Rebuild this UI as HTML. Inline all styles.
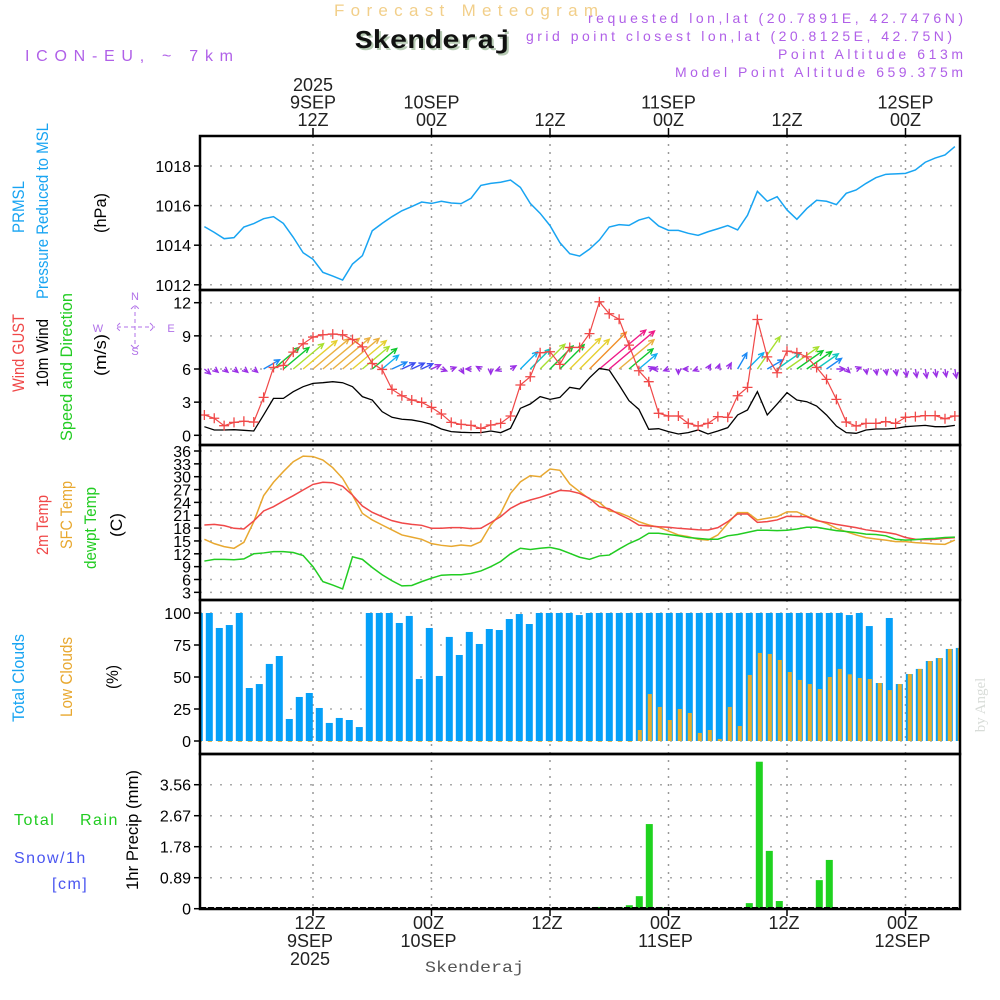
<!DOCTYPE html>
<html><head><meta charset="utf-8"><style>
html,body{margin:0;padding:0;background:#fff;}
svg{display:block;font-family:"Liberation Sans",sans-serif;}
</style></head><body>
<svg id="chart" width="1000" height="1000" viewBox="0 0 1000 1000" xmlns="http://www.w3.org/2000/svg">
<text x="334" y="16" font-size="17" fill="#f2cf8a" textLength="264" lengthAdjust="spacing">Forecast Meteogram</text>
<text x="357" y="50" font-size="26" font-weight="bold" font-family="Liberation Mono, monospace" fill="#b7cbb4" textLength="157" lengthAdjust="spacingAndGlyphs">Skenderaj</text>
<text x="355" y="48" font-size="26" font-weight="bold" font-family="Liberation Mono, monospace" fill="#111" textLength="157" lengthAdjust="spacingAndGlyphs">Skenderaj</text>
<text x="25" y="61" font-size="16" fill="#b060e8" textLength="208" lengthAdjust="spacing">ICON-EU, ~ 7km</text>
<text x="588" y="23" font-size="14" fill="#b060e8" textLength="375" lengthAdjust="spacing">requested lon,lat (20.7891E, 42.7476N)</text>
<text x="526" y="41" font-size="14" fill="#b060e8" textLength="426" lengthAdjust="spacing">grid point closest lon,lat (20.8125E, 42.75N)</text>
<text x="778" y="59" font-size="14" fill="#b060e8" textLength="185" lengthAdjust="spacing">Point Altitude 613m</text>
<text x="675" y="77" font-size="14" fill="#b060e8" textLength="288" lengthAdjust="spacing">Model Point Altitude 659.375m</text>
<text transform="translate(985,705) rotate(-90)" text-anchor="middle" font-size="15" font-family="Liberation Serif, serif" fill="#d8dcd8">by Angel</text>
<text x="425" y="972" font-size="16" font-family="Liberation Mono, monospace" fill="#555" textLength="99" lengthAdjust="spacingAndGlyphs">Skenderaj</text>
<g id="g"></g>
</svg>
<script>
// ---- data (hourly, h = 1..77) ----
const hours = [];
for (let h = 1; h <= 77; h++) hours.push(h);
const pressure = [1014.94,1014.65,1014.33,1014.38,1014.92,1015.09,1015.34,1015.44,1015.10,1014.40,1013.62,1013.29,1012.63,1012.44,1012.24,1013.05,1013.47,1014.73,1015.10,1015.44,1015.74,1015.95,1016.18,1016.11,1016.22,1016.13,1016.10,1016.37,1017.02,1017.12,1017.18,1017.29,1016.92,1016.11,1015.61,1014.99,1014.13,1013.57,1013.45,1013.80,1014.26,1014.92,1015.04,1015.0,1015.27,1015.41,1014.97,1014.75,1014.75,1014.6,1014.5,1014.68,1014.83,1014.99,1014.77,1015.51,1016.72,1016.22,1016.45,1015.78,1015.31,1015.85,1016.27,1016.22,1016.05,1016.62,1016.79,1017.12,1017.41,1017.58,1017.6,1017.63,1017.8,1018.19,1018.4,1018.56,1018.98];
const gust = [1.84,1.54,0.87,1.17,1.27,1.2,3.43,6.14,6.33,7.53,8.28,8.89,9.1,9.16,9.1,8.67,8.0,6.5,5.96,4.16,3.58,3.19,2.98,2.53,1.93,1.17,0.99,0.9,0.63,0.93,1.08,1.75,4.55,5.3,7.47,7.56,6.42,7.95,7.95,9.2,12.08,11.0,10.5,8.16,5.84,4.85,1.99,1.75,1.75,1.08,0.84,1.08,1.69,1.63,3.58,4.34,10.48,7.1,5.66,7.62,7.47,7.1,6.14,5.06,3.25,1.2,0.84,1.08,1.08,1.23,1.08,1.63,1.69,1.78,1.78,1.5,1.75];
const windSpeed = [0.78,0.48,0.48,0.51,0.45,0.39,1.84,3.34,3.34,3.95,4.4,4.7,4.76,4.85,4.76,4.4,3.5,3.19,2.14,1.63,1.45,1.39,1.23,0.99,0.57,0.33,0.27,0.24,0.24,0.39,0.24,0.63,2.44,2.83,3.5,3.25,3.43,4.34,4.19,5.2,6.05,5.9,4.55,3.13,2.35,0.54,0.6,0.33,0.12,0.24,0.48,0.12,0.39,0.69,1.84,2.29,3.95,1.84,2.83,3.86,3.19,3.04,2.65,1.84,0.84,0.24,0.18,0.48,0.57,0.57,0.63,0.78,0.84,0.9,0.78,0.78,0.9];
const windDir = [-40,-40,-40,-40,-40,-40,30,40,40,40,40,40,40,40,40,40,40,40,40,25,25,25,25,25,-20,20,-60,180,150,-90,200,30,45,45,45,45,45,45,45,45,40,40,40,40,40,20,180,200,-90,180,200,60,70,60,60,45,55,30,35,35,35,35,35,35,0,-45,20,-80,-80,-80,-80,-80,-80,-80,-80,-80,-80];
const temp2m = [18.72,18.88,18.57,17.95,17.79,19.66,22.0,23.0,24.33,25.57,26.9,28.2,28.7,28.6,27.75,25.7,23.16,21.68,20.67,19.74,19.19,18.88,18.65,17.95,17.95,18.1,18.1,17.87,17.95,19.27,20.67,22.6,23.8,24.56,25.18,25.96,26.8,26.66,26.1,24.95,23.0,22.5,21.2,20.1,18.7,18.5,18.3,18.2,17.95,17.8,17.6,17.55,18.1,19.5,21.3,21.3,19.35,19.5,19.9,20.75,20.67,20.67,19.74,19.35,18.88,18.5,18.1,17.6,17.3,17.0,16.6,15.8,15.4,15.3,15.38,15.6,15.77];
const tempSfc = [15.38,14.37,13.67,13.28,14.68,19.5,25.57,28.7,31.2,33.5,34.8,34.7,33.9,32.1,29.6,25.7,21.45,19.9,18.72,17.56,16.4,15.9,15.38,14.37,13.98,13.74,14.05,13.82,14.83,18.72,21.45,26.1,28.8,30.24,30.0,31.8,31.5,28.3,26.5,24.8,24.0,22.0,21.6,20.67,19.5,18.72,18.2,17.3,16.4,16.0,15.38,15.2,16.4,19.1,21.6,21.6,19.9,20.3,20.67,21.8,21.8,20.8,19.9,19.1,17.95,17.17,16.4,15.77,15.46,15.2,14.83,14.83,14.6,14.45,14.3,14.2,15.2];
const dewpoint = [10.3,10.7,10.7,10.6,10.8,12.0,12.2,12.5,12.5,12.3,11.6,9.0,5.5,4.7,3.8,11.3,10.7,8.8,7.1,5.7,4.5,4.6,5.5,6.3,7.0,7.1,7.1,7.4,8.0,9.0,10.2,12.0,13.3,13.0,13.3,13.5,13.0,12.1,11.2,10.7,11.5,11.7,13.1,14.4,15.4,16.8,16.8,16.5,16.2,15.8,15.6,15.4,15.4,16.2,16.5,17.0,17.5,17.5,17.4,17.5,17.8,18.2,18.2,17.8,17.4,17.2,16.95,16.6,16.5,16.2,15.4,15.2,15.3,15.5,15.6,15.8,15.9];
// ---- bar data (77 bars) ----
const totalClouds = [100,100,88.3,90.6,100,41.4,44.5,60.2,66.4,17.2,34.4,37.5,25.8,14.1,18.0,16.4,10.9,100,100,100,92.2,97.7,48.4,88.3,50.8,81.3,67.2,85.2,75.8,87.5,86.7,95.3,99.2,91.4,100,100,100,100,98.4,100,100,100,100,100,100,100,100,100,100,100,100,100,100,100,100,100,100,100,100,100,100,100,100,100,100,98.4,100,89.8,45.3,96.1,44.5,52.3,56.3,62.5,64.8,71.9,72.7];
const lowClouds = [0,0,0,0,0,0,0,0,0,0,0,0,0,0,0,0,0,0,0,0,0,0,0,0,0,0,0,0,0,0,0,0,0,0,0,0,0,0,0,0,0,0,0,0,8.6,36.7,26.6,16.4,25.0,21.9,6.3,8.6,1.6,26.6,11.7,51.6,68.8,68.0,63.3,53.9,47.7,44.5,40.6,50.0,56.3,52.1,49.2,48.4,45.3,39.8,44.5,52.3,56.3,62.5,64.8,71.9,72.7];
const precip = [0,0,0,0,0,0,0,0,0,0,0,0,0,0,0,0,0,0,0,0,0,0,0,0,0,0,0,0,0,0,0,0,0,0,0,0,0,0,0,0,0.05,0,0.05,0.1,0.36,2.43,0.05,0,0,0,0,0,0,0,0,0.16,4.22,1.66,0.22,0,0,0,0.82,1.40,0,0,0,0,0,0,0,0,0,0,0,0,0];
// ---- tick labels ----
const pressTicks = [1012,1014,1016,1018];
const windTicks = [0,3,6,9,12];
const tempTicks = [3,6,9,12,15,18,21,24,27,30,33,36];
const cloudTicks = [0,25,50,75,100];
const precipTicks = [0,0.89,1.78,2.67,3.56];
const timeTickHours = [12,24,36,48,60,72];
const topTimeLabels = [["2025","9SEP","12Z"],["10SEP","00Z"],["12Z"],["11SEP","00Z"],["12Z"],["12SEP","00Z"]];
const bottomTimeLabels = [["12Z","9SEP","2025"],["00Z","10SEP"],["12Z"],["00Z","11SEP"],["12Z"],["00Z","12SEP"]];

// ---- scales ----
const X0 = 200, X1 = 960;
const xh = h => 313 + (h - 12) * 9.875;
const xb = i => 199.3 + 10 * i;
const yP = p => 166 + (1018 - p) * 19.8;
const yW = v => 435.3 - v * 11.05;
const yT = t => 451 + (36 - t) * 4.283;
const yC = c => 741 - c * 1.28;
const yR = r => 908.7 - r * 34.83;
const panels = [[136,290],[290,445],[445,600],[600,754],[754,909]];

const NS = "http://www.w3.org/2000/svg";
const G = document.getElementById('g');
function mk(tag, attrs, parent) {
  const e = document.createElementNS(NS, tag);
  for (const k in attrs) e.setAttribute(k, attrs[k]);
  (parent || G).appendChild(e);
  return e;
}
function txt(s, attrs, parent) { const e = mk('text', attrs, parent); e.textContent = s; return e; }

// grids
const gridG = mk('g', {});


function hgrid(vals, yf) {
  vals.forEach(v => {
    const l = mk('line', {x1: X0, x2: X1, y1: yf(v), y2: yf(v), stroke: '#aaa', 'stroke-width': 1.5, 'stroke-dasharray': '2,8'}, gridG);
    
    
  });
}
hgrid(pressTicks, yP); hgrid(windTicks, yW); hgrid(tempTicks, yT); hgrid(cloudTicks, yC); hgrid(precipTicks, yR);
timeTickHours.forEach(h => {
  const l = mk('line', {x1: xh(h), x2: xh(h), y1: 136, y2: 909, stroke: '#999', 'stroke-width': 1.5, 'stroke-dasharray': '2,6'}, gridG);
  
  
});

// y tick labels
function yticks(vals, yf, name, fmt) {
  vals.forEach(v => {
    const t = txt(fmt ? fmt(v) : String(v), {x: 191, y: yf(v) + 6, 'text-anchor': 'end', 'font-size': 16, fill: '#000'});
    
    
    mk('line', {x1: 194, x2: 200, y1: yf(v), y2: yf(v), stroke: '#000', 'stroke-width': 1.5});
  });
}
yticks(pressTicks, yP, 'pressure-tick-label');
yticks(windTicks, yW, 'wind-tick-label');
yticks(tempTicks, yT, 'temp-tick-label');
yticks(cloudTicks, yC, 'cloud-tick-label');
yticks(precipTicks, yR, 'precip-tick-label', v => v === 0 ? '0' : v.toFixed(2));

// time labels
timeTickHours.forEach((h, k) => {
  const x = xh(h);
  mk('line', {x1: x, x2: x, y1: 128, y2: 136, stroke: '#000', 'stroke-width': 1.5});
  mk('line', {x1: x, x2: x, y1: 909, y2: 916, stroke: '#000', 'stroke-width': 1.5});
  const top = topTimeLabels[k];
  top.forEach((s, j) => {
    const t = txt(s, {x: x, y: 126 - (top.length - 1 - j) * 17.5, 'text-anchor': 'middle', 'font-size': 18, fill: '#222'});
    
    
  });
  bottomTimeLabels[k].forEach((s, j) => {
    const t = txt(s, {x: x - 3, y: 929 + j * 18, 'text-anchor': 'middle', 'font-size': 18, fill: '#222'});
    
    
  });
});

// pressure line
const pl = mk('polyline', {points: hours.map((h, i) => xh(h) + ',' + yP(pressure[i])).join(' '), fill: 'none', stroke: '#18a4f2', 'stroke-width': 1.5});



// wind arrows
function spdColor(s) {
  if (s < 1) return '#9b30e6';
  if (s < 1.5) return '#3a4cf0';
  if (s < 2) return '#1a88f5';
  if (s < 2.5) return '#10b0f0';
  if (s < 3) return '#10c8c0';
  if (s < 3.5) return '#10c830';
  if (s < 4) return '#a8e030';
  if (s < 4.5) return '#e6d030';
  if (s < 5) return '#eab040';
  if (s < 5.6) return '#f09028';
  return '#ee1a88';
}
const arrowG = mk('g', {});


hours.forEach((h, i) => {
  const s = windSpeed[i], a = windDir[i] * Math.PI / 180;
  const L = Math.max(5, s * 10);
  const x1 = xh(h), y1 = yW(6);
  const x2 = x1 + L * Math.cos(a), y2 = y1 - L * Math.sin(a);
  const c = spdColor(s);
  const hl = 6, ha = 0.45;
  const b1x = x2 - hl * Math.cos(a - ha), b1y = y2 + hl * Math.sin(a - ha);
  const b2x = x2 - hl * Math.cos(a + ha), b2y = y2 + hl * Math.sin(a + ha);
  const p = mk('path', {d: `M${x1},${y1}L${x2},${y2}M${b1x},${b1y}L${x2},${y2}L${b2x},${b2y}`, stroke: c, 'stroke-width': 1.4, fill: 'none'}, arrowG);
  
  
});

// wind speed line
const wl = mk('polyline', {points: hours.map((h, i) => xh(h) + ',' + yW(windSpeed[i])).join(' '), fill: 'none', stroke: '#000', 'stroke-width': 1.3});


// gust line with + markers
const gl = mk('polyline', {points: hours.map((h, i) => xh(h) + ',' + yW(gust[i])).join(' '), fill: 'none', stroke: '#f04848', 'stroke-width': 1.2});


hours.forEach((h, i) => {
  const x = xh(h), y = yW(gust[i]);
  const m = mk('path', {d: `M${x-5},${y}H${x+5}M${x},${y-5}V${y+5}`, stroke: '#f04848', 'stroke-width': 1.3});
  
  
});

// temperature lines
[[tempSfc, '#e8a830', 'sfc-temp-line'], [temp2m, '#f04848', 'temp-2m-line'], [dewpoint, '#22cc22', 'dewpoint-line']].forEach(([arr, c, n]) => {
  const l = mk('polyline', {points: hours.map((h, i) => xh(h) + ',' + yT(arr[i])).join(' '), fill: 'none', stroke: c, 'stroke-width': 1.5});
  
  
});

// cloud bars
const clipC = mk('clipPath', {id: 'clipPlot'});
mk('rect', {x: X0, y: 0, width: X1 - X0, height: 1000}, clipC);
const cloudG = mk('g', {'clip-path': 'url(#clipPlot)'});


totalClouds.forEach((v, i) => {
  const r = mk('rect', {x: xb(i) - 3.5, y: yC(v), width: 7, height: yC(0) - yC(v), fill: '#05a0f8'}, cloudG);
  
  
});
lowClouds.forEach((v, i) => {
  const r = mk('rect', {x: xb(i) - 1.5, y: yC(v), width: 4, height: Math.max(0.8, yC(0) - yC(v)), fill: '#e8ad2a'}, cloudG);
  
  
});
// precip bars
precip.forEach((v, i) => {
  if (v <= 0) return;
  const r = mk('rect', {x: xb(i) - 3.5, y: yR(v), width: 7, height: yR(0) - yR(v), fill: '#1fd21f'});
  
  
});
mk('line', {x1: X0, x2: X1, y1: 908, y2: 908, stroke: '#000', 'stroke-width': 2, 'stroke-dasharray': '6,2'});

// panel frames
panels.forEach(([a, b]) => {
  const r = mk('rect', {x: X0, y: a, width: X1 - X0, height: b - a, fill: 'none', stroke: '#000', 'stroke-width': 2.5});
  
  
});

// axis titles (rotated)
function vlab(s, x, cy, c, name, len) {
  const t = txt(s, {transform: `translate(${x},${cy}) rotate(-90)`, 'text-anchor': 'middle', 'font-size': 17, fill: c});
  if (len) { t.setAttribute('textLength', len); t.setAttribute('lengthAdjust', 'spacingAndGlyphs'); }
  
  
}
vlab('PRMSL', 24, 207, '#18a4f2', 'prmsl-label', 52);
vlab('Pressure Reduced to MSL', 48, 211, '#18a4f2', 'pressure-label', 176);
vlab('(hPa)', 106, 213, '#000', 'hpa-unit-label', 40);
vlab('Wind GUST', 24, 353, '#f04848', 'wind-gust-label', 78);
vlab('10m Wind', 48, 353, '#000', 'wind-10m-label', 68);
vlab('Speed and Direction', 72, 367, '#22cc22', 'speed-direction-label', 148);
vlab('(m/s)', 106, 355, '#000', 'ms-unit-label', 42);
vlab('2m Temp', 48, 525, '#f04848', 'temp-2m-label', 60);
vlab('SFC Temp', 72, 515, '#e8a830', 'sfc-temp-label', 68);
vlab('dewpt Temp', 96, 528, '#22cc22', 'dewpt-label', 82);
vlab('(C)', 122, 525, '#000', 'c-unit-label', 24);
vlab('Total Clouds', 24, 678, '#18a4f2', 'total-clouds-label', 88);
vlab('Low Clouds', 72, 677, '#e8a830', 'low-clouds-label', 80);
vlab('(%)', 118, 677, '#000', 'pct-unit-label', 24);
vlab('1hr Precip (mm)', 138, 830, '#000', 'precip-axis-label', 120);
// compass
[['N', 135, 300], ['W', 98, 332], ['E', 171, 332], ['S', 135, 355]].forEach(([s, x, y]) => {
  const t = txt(s, {x: x, y: y, 'text-anchor': 'middle', 'font-size': 11, fill: '#b070e8'});
  
  
});
const cp = mk('path', {d: 'M117,327H155M135,305V349M120,323L116,327L120,331M150,323L154,327L150,331M131,309L135,305L139,309M131,345L135,349L139,345', stroke: '#b070e8', 'stroke-width': 1, fill: 'none', 'stroke-dasharray': '4,3'});


// precip legend
[['Total', 14, 825, '#22cc22'], ['Rain', 80, 825, '#22cc22'], ['Snow/1h', 14, 863, '#4a55f0'], ['[cm]', 52, 889, '#4a55f0']].forEach(([s, x, y, c]) => {
  const t = txt(s, {x: x, y: y, 'font-size': 16, fill: c, 'letter-spacing': 1.5});
  
  
});
</script>
</body></html>
